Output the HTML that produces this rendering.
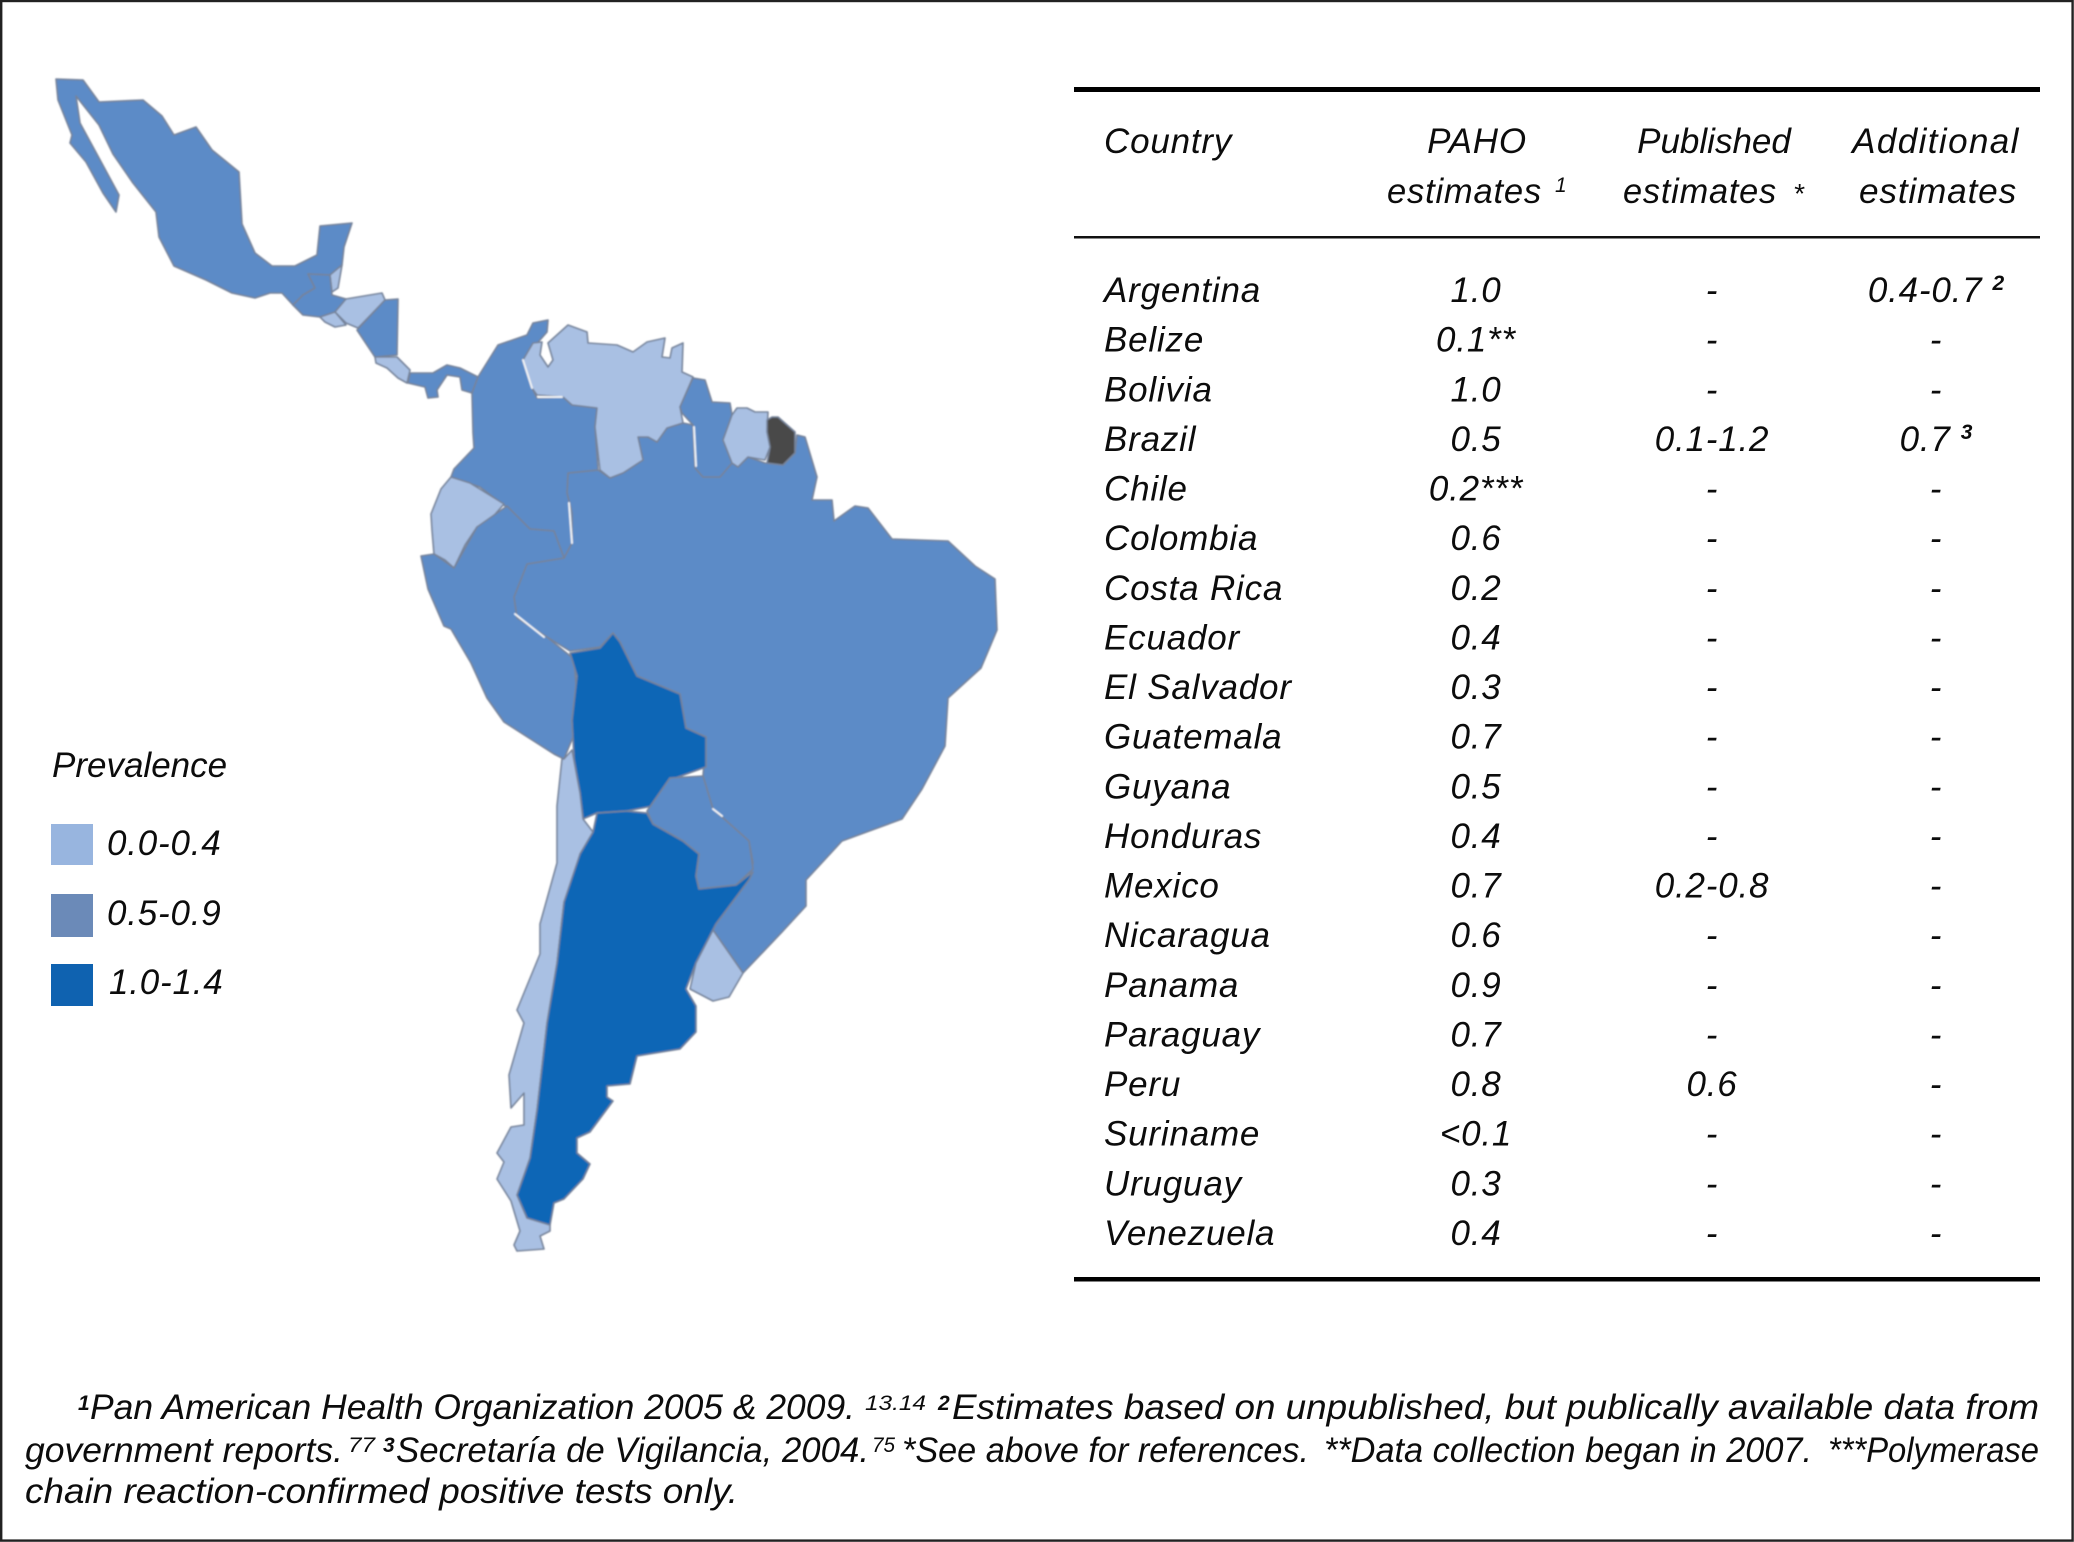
<!DOCTYPE html>
<html lang="en">
<head>
<meta charset="utf-8">
<title>Prevalence in Latin America</title>
<style>
html,body{margin:0;padding:0;background:#fff;}
svg{display:block;}
text{font-family:"Liberation Sans",sans-serif;font-style:italic;fill:#0c0c0c;}
.body{font-size:35px;letter-spacing:0.8px;}
.foot{font-size:35px;}
.sup{font-size:21px;letter-spacing:0;}
.supb{font-size:21px;letter-spacing:0;font-weight:bold;}
.country{stroke:#76839a;stroke-width:1.6;stroke-linejoin:round;}
.glint{fill:none;stroke:#fff;stroke-width:2;stroke-linecap:round;opacity:.9;}
</style>
</head>
<body>
<svg id="figure" xmlns="http://www.w3.org/2000/svg" width="2074" height="1542" viewBox="0 0 2074 1542">
  <defs>
    <filter id="soften" x="-2%" y="-2%" width="104%" height="104%">
      <feGaussianBlur stdDeviation="0.8"/>
    </filter>
  </defs>
  <rect x="0" y="0" width="2074" height="1542" fill="#fff"/>
  <rect x="1.2" y="1" width="2071.4" height="1539.6" fill="none" stroke="#222" stroke-width="2.4"/>

  <g id="map" filter="url(#soften)">
    <path class="country" data-country="Brazil" d="M568,473 L598,470 610,478 623,473 643,460 638,437 648,437 657,442 667,428 683,423 693,425 695,468 703,477 720,477 732,463 738,467 748,457 765,463 783,465 795,453 797,435 805,437 817,477 812,500 832,500 834,521 855,506 868,508 892,539 948,541 975,566 995,579 997,630 981,668 948,698 945,746 922,789 902,819 842,841 806,880 806,906 782,932 743,973 713,930 719,915 749,876 753,863 749,841 713,809 703,776 706,737 686,728 680,694 637,676 620,642 613,633 600,647 570,651 547,637 517,618 514,597 527,564 564,558 572,543 572,513 567,493 Z"/>
    <path class="country" data-country="Mexico" d="M56,79 L83,80 99,102 143,100 162,116 174,135 196,127 212,150 239,172 242,224 255,253 272,266 295,266 317,255 320,226 352,223 344,247 342,265 330,275 308,274 315,288 303,295 293,305 282,293 270,293 255,298 232,293 206,280 174,266 159,237 156,212 133,183 113,154 99,125 76,96 80,123 99,158 119,195 116,212 103,193 86,162 70,143 72,135 58,100 Z"/>
    <path class="country" data-country="Belize" d="M342,265 L338,288 332,292 330,275 Z"/>
    <path class="country" data-country="Guatemala" d="M308,274 L330,275 332,295 346,299 335,312 320,317 303,315 293,305 303,295 315,288 Z"/>
    <path class="country" data-country="Honduras" d="M346,299 L382,293 385,300 358,328 346,323 335,312 Z"/>
    <path class="country" data-country="El Salvador" d="M320,317 L335,312 346,325 335,327 325,322 Z"/>
    <path class="country" data-country="Nicaragua" d="M398,299 L397,355 375,357 357,330 385,300 Z"/>
    <path class="country" data-country="Costa Rica" d="M375,357 L397,357 410,370 407,383 398,378 387,368 376,363 Z"/>
    <path class="country" data-country="Panama" d="M410,373 L433,373 447,365 460,368 478,377 472,393 462,390 460,377 447,375 437,390 438,397 428,398 425,387 408,383 Z"/>
    <path class="country" data-country="Colombia" d="M478,377 L498,345 527,335 533,323 548,320 547,332 540,340 525,357 523,360 532,388 537,398 563,397 572,405 597,408 595,427 598,470 568,473 567,493 572,513 572,543 564,558 554,531 530,529 505,506 480,487 451,477 454,469 474,448 473,433 472,393 Z"/>
    <path class="country" data-country="Venezuela" d="M548,343 L568,325 587,332 588,343 617,345 633,352 647,342 665,338 662,357 670,358 672,348 683,343 682,372 693,377 680,407 683,423 667,428 657,442 648,437 638,437 643,460 623,473 610,478 600,470 595,427 597,408 572,405 563,397 537,395 532,388 523,360 533,343 542,342 540,355 548,367 553,360 Z"/>
    <path class="country" data-country="Guyana" d="M693,378 L705,380 712,402 730,403 732,415 723,440 732,463 720,477 703,477 695,468 693,425 682,413 680,407 Z"/>
    <path class="country" data-country="Suriname" d="M737,408 L747,408 755,412 768,412 767,432 770,447 765,460 748,457 738,467 732,463 723,440 732,415 Z"/>
    <path class="country" fill="#4a4a4a" stroke="#4a4a4a" stroke-width="1" d="M772,417 L778,417 795,432 795,453 783,465 767,463 770,447 767,432 767,420 Z"/>
    <path class="country" data-country="Ecuador" d="M451,477 L470,483 504,504 490,520 477,527 465,545 454,568 445,560 434,554 432,530 431,514 441,489 Z"/>
    <path class="country" data-country="Peru" d="M421,556 L434,554 454,568 477,527 507,506 530,529 554,531 564,558 527,564 514,597 517,618 547,637 564,651 574,659 577,698 572,720 573,737 564,759 554,754 504,722 487,698 471,663 451,629 444,626 428,589 Z"/>
    <path class="country" data-country="Bolivia" d="M613,633 L620,642 637,676 680,694 686,728 706,737 706,767 670,780 653,806 627,811 597,813 583,819 580,793 574,759 572,720 577,676 570,653 600,648 Z"/>
    <path class="country" data-country="Chile" d="M564,759 L572,750 580,793 583,819 593,832 580,854 577,889 564,902 557,963 547,1023 537,1110 530,1158 517,1195 527,1218 550,1225 550,1231 540,1236 544,1249 517,1251 514,1245 520,1231 511,1201 497,1179 504,1162 497,1153 511,1127 524,1125 524,1093 511,1108 509,1075 524,1023 517,1010 540,954 540,924 557,863 557,806 562,759 Z"/>
    <path class="country" data-country="Paraguay" d="M670,778 L703,776 713,809 749,841 753,869 736,885 699,889 696,876 699,854 683,841 653,824 647,811 Z"/>
    <path class="country" data-country="Argentina" d="M597,813 L627,811 647,813 653,824 683,841 699,854 696,876 699,889 736,885 753,872 749,880 716,924 696,963 686,989 696,1006 696,1032 680,1049 637,1056 630,1084 607,1086 607,1097 613,1101 590,1132 577,1138 577,1153 590,1164 583,1179 564,1199 554,1203 550,1225 527,1218 517,1195 530,1158 537,1110 547,1023 557,963 564,902 580,854 593,832 Z"/>
    <path class="country" data-country="Uruguay" d="M713,930 L743,973 729,997 713,1001 690,989 696,963 Z"/>
    <path class="glint" d="M694,427 L696,466 M569,503 L572,543 M515,614 L544,637 M523,360 L532,388 M538,397 L562,397 M713,809 L722,816"/>
  </g>

  <g id="legend">
    <text class="body" style="letter-spacing:0" x="52" y="777">Prevalence</text>
    <rect x="51" y="824" width="42" height="41" fill="#98b5df"/>
    <text class="body" x="107" y="855">0.0-0.4</text>
    <rect x="51" y="894" width="42" height="43" fill="#6b8ab8"/>
    <text class="body" x="107" y="925">0.5-0.9</text>
    <rect x="51" y="964" width="42" height="42" fill="#0f62b0"/>
    <text class="body" x="109" y="994">1.0-1.4</text>
  </g>

  <g id="table">
    <rect x="1074" y="87" width="966" height="5" fill="#000"/>
    <rect x="1074" y="236" width="966" height="2.5" fill="#111"/>
    <rect x="1074" y="1277" width="966" height="4.5" fill="#000"/>
    <text class="body" x="1104" y="153">Country</text>
    <text class="body" text-anchor="middle" x="1477" y="153">PAHO</text>
    <text class="body" x="1387" y="203" textLength="155" lengthAdjust="spacingAndGlyphs">estimates</text>
    <text class="sup" x="1555" y="192">1</text>
    <text class="body" style="letter-spacing:0" text-anchor="middle" x="1714" y="153">Published</text>
    <text class="body" x="1623" y="203" textLength="154" lengthAdjust="spacingAndGlyphs">estimates</text>
    <text class="sup" style="font-size:28px" x="1793" y="203">*</text>
    <text class="body" style="letter-spacing:1.4px" text-anchor="middle" x="1936" y="153">Additional</text>
    <text class="body" x="1859" y="203" textLength="158" lengthAdjust="spacingAndGlyphs">estimates</text>
    <g id="table-rows"></g>
  </g>

  <g id="footnotes">
    <text class="supb" x="78" y="1410">1</text>
    <text class="foot" x="90" y="1419" textLength="765" lengthAdjust="spacingAndGlyphs">Pan American Health Organization 2005 &amp; 2009.</text>
    <text class="sup" x="865" y="1410" textLength="61" lengthAdjust="spacingAndGlyphs">13.14</text>
    <text class="supb" x="938" y="1410">2</text>
    <text class="foot" x="952" y="1419" textLength="1087" lengthAdjust="spacingAndGlyphs">Estimates based on unpublished, but publically available data from</text>
    <text class="foot" x="25" y="1462" textLength="318" lengthAdjust="spacingAndGlyphs">government reports.</text>
    <text class="sup" x="348" y="1452" textLength="27" lengthAdjust="spacingAndGlyphs">77</text>
    <text class="supb" x="383" y="1452">3</text>
    <text class="foot" x="396" y="1462" textLength="473" lengthAdjust="spacingAndGlyphs">Secretaría de Vigilancia, 2004.</text>
    <text class="sup" x="872" y="1452" textLength="23" lengthAdjust="spacingAndGlyphs">75</text>
    <text class="foot" x="902" y="1462" textLength="407" lengthAdjust="spacingAndGlyphs">*See above for references.</text>
    <text class="foot" x="1324" y="1462" textLength="488" lengthAdjust="spacingAndGlyphs">**Data collection began in 2007.</text>
    <text class="foot" x="1828" y="1462" textLength="211" lengthAdjust="spacingAndGlyphs">***Polymerase</text>
    <text class="foot" x="25" y="1503" textLength="713" lengthAdjust="spacingAndGlyphs">chain reaction-confirmed positive tests only.</text>
  </g>
</svg>

<script>
const countries = ["Argentina","Belize","Bolivia","Brazil","Chile","Colombia","Costa Rica","Ecuador","El Salvador","Guatemala","Guyana","Honduras","Mexico","Nicaragua","Panama","Paraguay","Peru","Suriname","Uruguay","Venezuela"];
const pahoValues = [1.0,0.1,1.0,0.5,0.2,0.6,0.2,0.4,0.3,0.7,0.5,0.4,0.7,0.6,0.9,0.7,0.8,0.1,0.3,0.4];
const pahoPrefixes = ["","","","","","","","","","","","","","","","","","<","",""];
const pahoSuffixes = ["","**","","","***","","","","","","","","","","","","","","",""];
const publishedLabels = ["-","-","-","0.1-1.2","-","-","-","-","-","-","-","-","0.2-0.8","-","-","-","0.6","-","-","-"];
const additionalLabels = ["0.4-0.7","-","-","0.7","-","-","-","-","-","-","-","-","-","-","-","-","-","-","-","-"];
const additionalRefs = ["2","","","3","","","","","","","","","","","","","","","",""];
const binUpperLimits = [0.45,0.95,1.45];

const binColor = function (value) {
  if (value < binUpperLimits[0]) return "#a9c0e3";
  if (value < binUpperLimits[1]) return "#5b8bc7";
  return "#0e66b6";
};
const rowY = function (index) { return 302 + index * 49.63; };
const colX = { country: 1104, paho: 1476, published: 1712, additional: 1936 };
const svgNS = "http://www.w3.org/2000/svg";
const rowsGroup = document.getElementById("table-rows");
const slug = function (s) { return s.toLowerCase().replace(/\s+/g, "-"); };

const addCell = function (parent, x, y, label, anchor, ref) {
  const el = document.createElementNS(svgNS, "text");
  el.setAttribute("class", "body");
  el.setAttribute("x", x);
  el.setAttribute("y", y);
  el.setAttribute("text-anchor", anchor);
  el.appendChild(document.createTextNode(label));
  if (ref) {
    const sup = document.createElementNS(svgNS, "tspan");
    sup.setAttribute("class", "supb");
    sup.setAttribute("dx", "10");
    sup.setAttribute("dy", "-12");
    sup.textContent = ref;
    el.appendChild(sup);
  }
  parent.appendChild(el);
  return el;
};

countries.forEach(function (name, i) {
  const y = rowY(i);
  const row = document.createElementNS(svgNS, "g");
  
  
  rowsGroup.appendChild(row);

  const nameCell = addCell(row, colX.country, y, name, "start");
  
  

  const pahoText = pahoPrefixes[i] + pahoValues[i].toFixed(1) + pahoSuffixes[i];
  const pahoCell = addCell(row, colX.paho, y, pahoText, "middle");
  
  

  const pubCell = addCell(row, colX.published, y, publishedLabels[i], "middle");
  
  

  const addlCell = addCell(row, colX.additional, y, additionalLabels[i], "middle", additionalRefs[i]);
  
  
});

document.querySelectorAll("[data-country]").forEach(function (shape) {
  const idx = countries.indexOf(shape.getAttribute("data-country"));
  shape.setAttribute("fill", binColor(pahoValues[idx]));
});
</script>
</body>
</html>
